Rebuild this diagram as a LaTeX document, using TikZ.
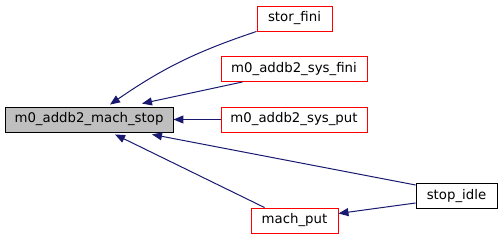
\documentclass[tikz,border=0pt]{standalone}
\usepackage{fontspec}
\setmainfont{DejaVu Sans}
\usetikzlibrary{arrows.meta,calc}
\definecolor{edgeblue}{HTML}{191970}
\begin{document}
\begin{tikzpicture}[x=1pt,y=-1pt,
  fn/.style={draw=red, line width=0.9pt, rectangle, inner sep=0pt,
    font=\fontsize{13.3}{15}\selectfont, minimum height=25pt},
  cur/.style={fn, draw=black, fill=gray!50},
  leaf/.style={fn, draw=black},
  call/.style={draw=edgeblue, line width=1pt,
    -{Triangle[length=10pt,width=8pt]}}]
\useasboundingbox (0,0) rectangle (503,240);

% function boxes
\node[cur,  minimum width=168pt] (main)    at (89,119.5)  {m0\_addb2\_mach\_stop};
\node[fn,   minimum width=75pt]  (stor)    at (294.5,18.5) {stor\_fini};
\node[fn,   minimum width=146pt] (sysfini) at (294,69)     {m0\_addb2\_sys\_fini};
\node[fn,   minimum width=146pt] (sysput)  at (294,119.5)  {m0\_addb2\_sys\_put};
\node[fn,   minimum width=87pt]  (machput) at (294.5,220.5) {mach\_put};
\node[leaf, minimum width=81pt]  (idle)    at (456.5,196)  {stop\_idle};

% call edges
\draw[call] (stor.south west) to[bend right=8] ($(main.north)+(21,-2)$);
\draw[call] ($(sysfini.south west)+(22,0)$) -- ($(main.north)+(53,-3)$);
\draw[call] (sysput.west) -- (main.east);
\draw[call] ($(idle.west)+(0,-11)$) -- ($(main.south)+(63,2)$);
\draw[call] ($(machput.north west)+(14,0)$) -- ($(main.south)+(26,2)$);
\draw[call] ($(idle.west)+(0,7)$) -- ($(machput.east)+(0,-7)$);
\end{tikzpicture}
\end{document}
